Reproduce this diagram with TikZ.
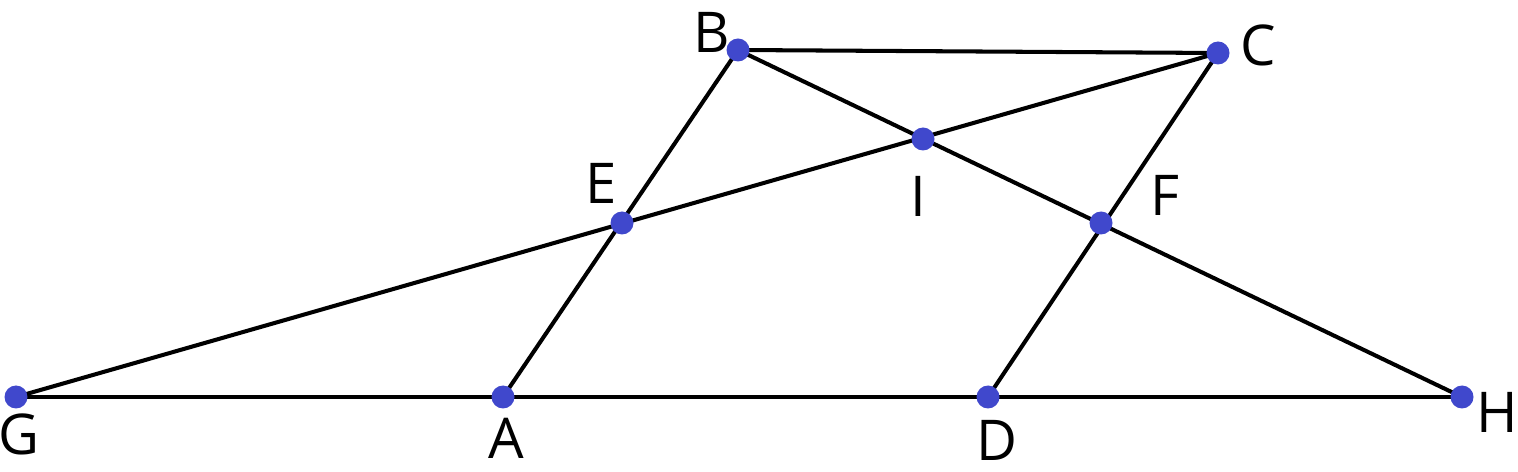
\documentclass[tikz,border=0pt]{standalone}
\usepackage{fontspec}
\setmainfont{Open Sans}
\definecolor{dotc}{RGB}{64,72,204}
\begin{document}
\begin{tikzpicture}[x=0.02cm,y=-0.02cm,
  ln/.style={line width=2.3pt,black},
  pt/.style={circle,fill=dotc,inner sep=0pt,minimum size=0.46cm},
  lb/.style={font=\fontsize{32}{38}\selectfont,inner sep=0pt}]
\useasboundingbox (0,0) rectangle (1518,472);
\coordinate (B) at (738,50);
\coordinate (C) at (1218,53);
\coordinate (I) at (923,139);
\coordinate (E) at (622,223);
\coordinate (F) at (1101,223);
\coordinate (G) at (16,397);
\coordinate (A) at (503,397);
\coordinate (D) at (988,397);
\coordinate (H) at (1462,397);
\draw[ln] (G) -- (H);
\draw[ln] (B) -- (C);
\draw[ln] (B) -- (A);
\draw[ln] (C) -- (D);
\draw[ln] (G) -- (C);
\draw[ln] (B) -- (H);
\foreach \p in {B,C,I,E,F,G,A,D,H} \node[pt] (n\p) at (\p) {};
\node[lb] (lB) at (712,32) {B};
\node[lb] (lC) at (1258,45) {C};
\node[lb] (lE) at (601,183) {E};
\node[lb] (lI) at (918,196) {I};
\node[lb] (lF) at (1165,195) {F};
\node[lb] (lG) at (19,434) {G};
\node[lb] (lA) at (506,438) {A};
\node[lb] (lD) at (997,440) {D};
\node[lb] (lH) at (1497,412) {H};
\end{tikzpicture}
\end{document}
